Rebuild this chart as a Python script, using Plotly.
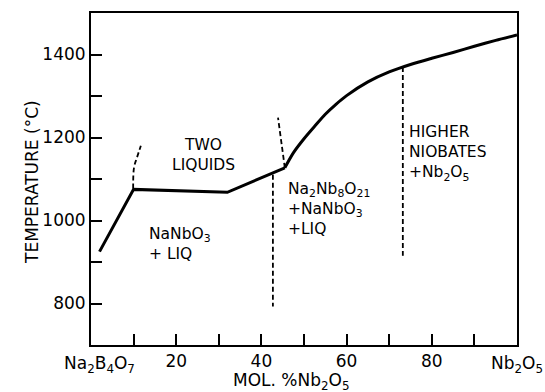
import plotly.graph_objects as go

# Liquidus curve (solid)
liq_seg_x = [2, 10, 32, 45.5]
liq_seg_y = [925, 1075, 1068, 1127]
liq_curve_x = [45.5, 47.5, 50, 52.5, 55, 57.5, 60, 65, 70, 75, 80, 85, 90, 95, 100]
liq_curve_y = [1127, 1163, 1197, 1227, 1256, 1280, 1301, 1334, 1358, 1376, 1391, 1405, 1420, 1434, 1447]

# Dashed boundaries
dash1_x = [9.9, 10.1, 10.8, 11.7]
dash1_y = [1077, 1128, 1152, 1180]
dash2_x = [45.5, 43.9]
dash2_y = [1127, 1248]
dash3_x = [42.7, 42.7]
dash3_y = [1110, 793]
dash4_x = [73.2, 73.2]
dash4_y = [1370, 915]

x_tickvals = [0, 10, 20, 30, 40, 50, 60, 70, 80, 90, 100]
x_ticktext = ["", "", "20", "", "40", "", "60", "", "80", "", ""]
y_tickvals = [800, 900, 1000, 1100, 1200, 1300, 1400]
y_ticktext = ["800", "", "1000", "", "1200", "", "1400"]

# Field labels: (x, y, text, anchor)
field_labels = [
    (26.5, 1159, "TWO<br>LIQUIDS", "center"),
    (13.4, 943, "NaNbO<sub>3</sub><br>+ LIQ", "left"),
    (45.9, 1027, "Na<sub>2</sub>Nb<sub>8</sub>O<sub>21</sub><br>+NaNbO<sub>3</sub><br>+LIQ", "left"),
    (74.3, 1161, "HIGHER<br>NIOBATES<br>+Nb<sub>2</sub>O<sub>5</sub>", "left"),
]
end_labels = [(2.1, "Na<sub>2</sub>B<sub>4</sub>O<sub>7</sub>"), (100, "Nb<sub>2</sub>O<sub>5</sub>")]
x_title = "MOL. %Nb<sub>2</sub>O<sub>5</sub>"
y_title = "TEMPERATURE (°C)"

FONT = "DejaVu Sans"
fig = go.Figure()
fig.add_trace(go.Scatter(x=liq_seg_x, y=liq_seg_y, mode="lines",
                         line=dict(color="black", width=3), showlegend=False))
fig.add_trace(go.Scatter(x=liq_curve_x, y=liq_curve_y, mode="lines",
                         line=dict(color="black", width=3, shape="spline", smoothing=0.8),
                         showlegend=False))
for dx, dy in [(dash1_x, dash1_y), (dash2_x, dash2_y), (dash3_x, dash3_y), (dash4_x, dash4_y)]:
    fig.add_trace(go.Scatter(x=dx, y=dy, mode="lines",
                             line=dict(color="black", width=1.8, dash="5px,3px", shape="spline"),
                             showlegend=False))

ann_font = dict(family=FONT, size=17, color="black")
field_font = dict(family=FONT, size=15.5, color="black")
for x, y, t, anchor in field_labels:
    fig.add_annotation(x=x, y=y, text=t, showarrow=False, font=field_font,
                       xanchor=anchor, align=anchor, borderpad=0)
for x, t in end_labels:
    fig.add_annotation(x=x, y=0, yref="paper", yanchor="top", yshift=-6,
                       text=t, showarrow=False, font=ann_font)
fig.add_annotation(x=47, y=0, yref="paper", yanchor="top", yshift=-23,
                   text=x_title, showarrow=False, font=ann_font)
fig.add_annotation(x=(20 - 91) / 426, xref="paper", y=(345 - 182) / 332, yref="paper",
                   text=y_title, textangle=-90, showarrow=False, font=ann_font)

fig.update_layout(
    width=545, height=392,
    margin=dict(l=91, r=28, t=13, b=47),
    paper_bgcolor="white", plot_bgcolor="white",
    font=dict(family=FONT, size=17, color="black"),
)
fig.update_xaxes(range=[0, 100], tickvals=x_tickvals, ticktext=x_ticktext,
                 ticks="inside", ticklen=11, tickwidth=2, tickcolor="black",
                 showline=True, linewidth=2, linecolor="black", mirror=True,
                 showgrid=False, zeroline=False)
fig.update_yaxes(range=[700, 1500], tickvals=y_tickvals, ticktext=y_ticktext,
                 ticks="inside", ticklen=11, tickwidth=2, tickcolor="black",
                 showline=True, linewidth=2, linecolor="black", mirror=True,
                 showgrid=False, zeroline=False)

fig.write_html("out.html")
